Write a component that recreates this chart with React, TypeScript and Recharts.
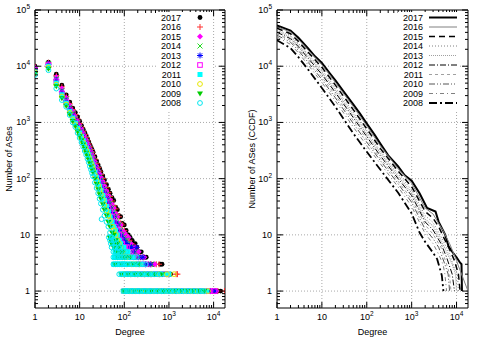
import {
  ScatterChart,
  Scatter,
  LineChart,
  Line,
  XAxis,
  YAxis,
  ReferenceLine,
  ReferenceArea,
  Legend,
} from "recharts";

// ---- shared axis values ----
const years = ["2017", "2016", "2015", "2014", "2013", "2012", "2011", "2010", "2009", "2008"];
const xTicks = [
  1, 2, 3, 4, 5, 6, 7, 8, 9, 10, 20, 30, 40, 50, 60, 70, 80, 90, 100, 200, 300, 400, 500, 600,
  700, 800, 900, 1000, 2000, 3000, 4000, 5000, 6000, 7000, 8000, 9000, 10000,
];
const yTicks = [
  0.6, 0.7, 0.8, 0.9, 1, 2, 3, 4, 5, 6, 7, 8, 9, 10, 20, 30, 40, 50, 60, 70, 80, 90, 100, 200, 300,
  400, 500, 600, 700, 800, 900, 1000, 2000, 3000, 4000, 5000, 6000, 7000, 8000, 9000, 10000, 20000,
  30000, 40000, 50000, 60000, 70000, 80000, 90000, 100000,
];
const xGrid = [10, 100, 1000, 10000];
const yGrid = [1, 10, 100, 1000, 10000];

// ---- left panel: degree distribution ----
const degrees = [
  1, 2, 3, 4, 5, 6, 7, 8, 9, 10, 11, 12, 13, 14, 15, 16, 17, 18, 19, 20, 22, 24, 26, 28, 30, 33, 36,
  40, 44, 48, 53, 58, 64, 70, 76, 83, 90, 100,
];
const count2017 = [10000, 11800, 7200, 4600, 3100, 2300, 1800, 1500, 1250, 1050, 880, 760, 660, 580, 510, 450, 400, 360, 325, 295, 245, 205, 175, 152, 133, 112, 95, 78, 65, 55, 46, 41, 31, 28, 22, 21, 16, 15];
const count2016 = [9800, 11500, 6800, 4300, 2900, 2150, 1700, 1380, 1150, 960, 820, 700, 610, 535, 470, 415, 368, 330, 296, 268, 222, 185, 157, 136, 119, 100, 84, 69, 57, 48, 40, 33, 29, 23, 21, 16, 15, 12];
const count2015 = [9500, 11200, 6400, 4000, 2750, 2000, 1580, 1280, 1060, 880, 760, 650, 560, 490, 430, 380, 336, 300, 270, 243, 200, 166, 140, 121, 105, 88, 74, 60, 50, 42, 35, 30, 24, 21, 16, 15, 12, 11];
const count2014 = [9000, 11000, 6000, 3700, 2600, 1870, 1470, 1180, 980, 810, 700, 600, 515, 450, 395, 348, 307, 273, 245, 220, 180, 149, 125, 107, 93, 77, 64, 52, 43, 36, 30, 25, 21, 17, 15, 12, 10, 9];
const count2013 = [8800, 10800, 5700, 3500, 2450, 1750, 1380, 1100, 910, 750, 650, 555, 475, 415, 362, 318, 280, 248, 222, 199, 162, 133, 111, 95, 82, 67, 56, 45, 37, 30, 25, 21, 17, 15, 12, 10, 9, 8];
const count2012 = [8500, 10500, 5400, 3300, 2300, 1650, 1290, 1030, 850, 700, 610, 515, 440, 380, 332, 290, 255, 226, 201, 180, 146, 119, 99, 84, 72, 59, 48, 38, 31, 26, 21, 17, 14, 12, 10, 8, 7, 6];
const count2011 = [8000, 10000, 5000, 3100, 2200, 1560, 1200, 970, 790, 650, 560, 475, 405, 350, 303, 265, 232, 205, 182, 162, 130, 105, 87, 73, 62, 50, 41, 32, 26, 21, 17, 14, 12, 10, 8, 7, 6, 5];
const count2010 = [7800, 9500, 4700, 2900, 2080, 1480, 1130, 910, 740, 610, 520, 440, 370, 320, 277, 240, 210, 185, 163, 145, 115, 93, 76, 63, 53, 42, 34, 27, 22, 18, 14, 12, 10, 8, 7, 6, 5, 4];
const count2009 = [7400, 9000, 4400, 2700, 1980, 1400, 1060, 860, 690, 570, 480, 405, 340, 290, 250, 217, 188, 165, 144, 127, 100, 80, 65, 53, 44, 35, 28, 22, 17, 14, 11, 10, 8, 7, 6, 5, 4, 4];
const count2008 = [7000, 8500, 4000, 2500, 1900, 1350, 1000, 830, 650, 530, 440, 370, 310, 265, 225, 195, 165, 145, 125, 110, 85, 68, 55, 44, 36, 28, 22, 17, 14, 11, 9, 8, 6, 5, 4, 4, 3, 3];

// sparse tail: [degree, number of ASes]
const tail2017 = [[110, 12], [118, 10], [123, 10], [135, 9], [150, 8], [160, 7], [175, 7], [190, 6], [217, 5], [240, 5], [280, 4], [310, 4], [450, 3], [640, 3], [700, 3], [260, 2], [330, 2], [420, 2], [520, 2], [800, 2], [1100, 2], [150, 1], [210, 1], [300, 1], [420, 1], [600, 1], [900, 1], [1300, 1], [1900, 1], [2700, 1], [3800, 1], [5500, 1], [8000, 1], [10500, 1], [12000, 1], [14400, 1]];
const tail2016 = [[110, 10], [120, 9], [130, 8], [145, 7], [160, 6], [180, 6], [200, 5], [230, 4], [270, 4], [400, 3], [520, 3], [600, 3], [200, 2], [290, 2], [380, 2], [600, 2], [900, 2], [1450, 2], [1550, 2], [130, 1], [180, 1], [260, 1], [380, 1], [550, 1], [800, 1], [1200, 1], [1700, 1], [2500, 1], [3500, 1], [5000, 1], [7000, 1], [9500, 1], [12500, 1], [17500, 1]];
const tail2015 = [[108, 10], [115, 9], [125, 9], [140, 7], [155, 6], [170, 6], [190, 5], [210, 5], [240, 4], [280, 4], [350, 3], [480, 3], [180, 2], [250, 2], [330, 2], [450, 2], [700, 2], [1000, 2], [120, 1], [170, 1], [240, 1], [350, 1], [500, 1], [750, 1], [1100, 1], [1600, 1], [2300, 1], [3300, 1], [4800, 1], [7000, 1], [9500, 1], [11500, 1]];
const tail2014 = [[105, 8], [115, 8], [125, 7], [140, 6], [155, 5], [175, 5], [200, 4], [230, 4], [300, 3], [400, 3], [150, 2], [220, 2], [300, 2], [420, 2], [650, 2], [950, 2], [110, 1], [160, 1], [230, 1], [330, 1], [480, 1], [700, 1], [1000, 1], [1500, 1], [2200, 1], [3200, 1], [4500, 1], [6500, 1], [9000, 1]];
const tail2013 = [[105, 7], [115, 7], [130, 6], [145, 6], [160, 5], [190, 6], [210, 4], [260, 4], [300, 3], [380, 3], [140, 2], [200, 2], [280, 2], [400, 2], [620, 2], [900, 2], [105, 1], [150, 1], [220, 1], [320, 1], [460, 1], [680, 1], [1000, 1], [1450, 1], [2100, 1], [3000, 1], [4300, 1], [6200, 1], [8500, 1], [10800, 1]];
const tail2012 = [[105, 6], [115, 6], [125, 5], [140, 5], [160, 4], [180, 4], [220, 3], [300, 3], [120, 2], [170, 2], [240, 2], [350, 2], [520, 2], [800, 2], [100, 1], [140, 1], [200, 1], [290, 1], [420, 1], [620, 1], [900, 1], [1300, 1], [1900, 1], [2800, 1], [4000, 1], [5800, 1], [8000, 1], [10500, 1]];
const tail2011 = [[50, 9], [60, 9], [52, 8], [62, 8], [75, 8], [55, 7], [66, 7], [80, 7], [60, 6], [72, 6], [86, 6], [98, 6], [62, 5], [68, 5], [78, 5], [88, 5], [105, 5], [120, 5], [60, 4], [66, 4], [74, 4], [85, 4], [97, 4], [112, 4], [130, 4], [150, 4], [58, 3], [65, 3], [72, 3], [80, 3], [92, 3], [106, 3], [122, 3], [140, 3], [165, 3], [195, 3], [230, 3], [90, 2], [100, 2], [115, 2], [130, 2], [150, 2], [175, 2], [200, 2], [240, 2], [290, 2], [350, 2], [420, 2], [520, 2], [650, 2], [800, 2], [1000, 2], [95, 1], [105, 1], [118, 1], [132, 1], [148, 1], [165, 1], [185, 1], [210, 1], [240, 1], [270, 1], [310, 1], [360, 1], [420, 1], [490, 1], [570, 1], [660, 1], [780, 1], [920, 1], [1100, 1], [1300, 1], [1550, 1], [1850, 1], [2200, 1], [2650, 1], [3200, 1], [3900, 1], [4700, 1], [5800, 1], [7000, 1]];
const tail2010 = [[105, 4], [115, 4], [130, 4], [150, 3], [180, 3], [220, 3], [72, 5], [85, 5], [95, 5], [100, 2], [140, 2], [200, 2], [280, 2], [400, 2], [600, 2], [900, 2], [1300, 2], [98, 1], [130, 1], [175, 1], [240, 1], [330, 1], [450, 1], [620, 1], [850, 1], [1200, 1], [1650, 1], [2300, 1], [3200, 1], [4400, 1], [6000, 1], [7500, 1]];
const tail2009 = [[47, 9], [50, 8], [52, 7], [64, 7], [58, 6], [75, 6], [66, 5], [80, 5], [92, 5], [70, 4], [88, 4], [110, 4], [135, 4], [62, 3], [85, 3], [120, 3], [160, 3], [210, 3], [85, 2], [120, 2], [170, 2], [240, 2], [340, 2], [480, 2], [700, 2], [96, 1], [125, 1], [165, 1], [220, 1], [300, 1], [400, 1], [550, 1], [750, 1], [1000, 1], [1400, 1], [1900, 1], [2600, 1], [3500, 1], [4800, 1], [6200, 1]];
const tail2008 = [[31, 19], [45, 9], [52, 9], [48, 8], [57, 8], [50, 7], [60, 7], [68, 7], [52, 6], [62, 6], [74, 6], [85, 6], [57, 5], [64, 5], [72, 5], [82, 5], [95, 5], [110, 5], [57, 4], [63, 4], [70, 4], [79, 4], [90, 4], [102, 4], [118, 4], [135, 4], [160, 4], [190, 4], [57, 3], [63, 3], [70, 3], [78, 3], [88, 3], [100, 3], [113, 3], [128, 3], [145, 3], [165, 3], [190, 3], [220, 3], [260, 3], [300, 3], [77, 2], [86, 2], [96, 2], [108, 2], [122, 2], [138, 2], [156, 2], [176, 2], [200, 2], [230, 2], [265, 2], [305, 2], [350, 2], [410, 2], [480, 2], [560, 2], [660, 2], [96, 1], [104, 1], [114, 1], [125, 1], [138, 1], [152, 1], [168, 1], [186, 1], [206, 1], [230, 1], [256, 1], [286, 1], [320, 1], [360, 1], [405, 1], [455, 1], [515, 1], [585, 1], [665, 1], [760, 1], [870, 1], [1000, 1], [1150, 1], [1330, 1], [1550, 1], [1800, 1], [2100, 1], [2450, 1], [2850, 1], [3350, 1], [3900, 1], [4600, 1], [5400, 1], [6000, 1]];

// ---- right panel: CCDF, [degree, ASes with degree >= k] ----
const ccdf2017 = [[1, 53000], [2, 43000], [3, 32000], [5, 20500], [7, 15000], [10, 11500], [15, 7500], [20, 5600], [30, 3600], [50, 2100], [70, 1450], [100, 950], [150, 600], [200, 420], [300, 260], [500, 165], [700, 115], [1000, 92], [1500, 55], [2200, 30], [3400, 26], [4000, 17], [5000, 12], [5600, 10], [6600, 6.3], [8000, 5], [10000, 4], [12000, 3.2], [12900, 3], [13200, 1]];
const ccdf2016 = [[1, 50500], [2, 40600], [3, 30000], [5, 19100], [10, 10600], [20, 5130], [50, 1910], [100, 870], [200, 385], [500, 150], [1000, 83], [2000, 30], [3000, 23.5], [4000, 16], [5000, 12], [7000, 7], [10000, 3.5], [11000, 2.8], [18000, 1]];
const ccdf2015 = [[1, 47500], [2, 37800], [3, 27700], [5, 17500], [10, 9550], [20, 4610], [50, 1690], [100, 770], [200, 345], [500, 136], [1000, 72], [2000, 26], [3000, 19.8], [4000, 14], [5000, 9.5], [7000, 5.5], [9000, 3.5], [11000, 2], [12000, 1]];
const ccdf2014 = [[1, 44800], [2, 35200], [3, 25600], [5, 16100], [10, 8630], [20, 4140], [50, 1510], [100, 690], [200, 310], [500, 122], [1000, 63], [2000, 22], [3000, 16.6], [4000, 11], [5000, 8], [7000, 4.5], [9000, 2.5], [10500, 2], [11000, 1]];
const ccdf2013 = [[1, 42400], [2, 33000], [3, 23900], [5, 14900], [10, 7850], [20, 3750], [50, 1350], [100, 620], [200, 285], [500, 110], [1000, 56], [2000, 19], [3000, 14.3], [4500, 8], [6000, 5], [8000, 3], [9500, 2], [10000, 1]];
const ccdf2012 = [[1, 40100], [2, 30900], [3, 22200], [5, 13700], [10, 7160], [20, 3400], [50, 1220], [100, 560], [200, 255], [500, 100], [1000, 50], [2000, 17], [3000, 12.2], [4500, 7], [6000, 4], [8000, 2], [9000, 1]];
const ccdf2011 = [[1, 37800], [2, 28800], [3, 20500], [5, 12600], [10, 6460], [20, 3050], [50, 1080], [100, 500], [200, 230], [500, 90], [1000, 43], [2000, 15], [3000, 10.3], [4500, 6], [6000, 3], [7000, 2], [7500, 1]];
const ccdf2010 = [[1, 35600], [2, 26800], [3, 19000], [5, 11600], [10, 5820], [20, 2740], [50, 960], [100, 445], [200, 210], [500, 81], [1000, 38], [2000, 12.5], [3000, 8.6], [4000, 6], [5500, 3], [6500, 2], [7000, 1]];
const ccdf2009 = [[1, 33100], [2, 24500], [3, 17300], [5, 10400], [10, 5150], [20, 2410], [50, 830], [100, 385], [200, 185], [500, 71], [1000, 32], [2000, 10.5], [3000, 7], [4000, 4.5], [5000, 3], [5500, 2], [6000, 1]];
const ccdf2008 = [[1, 29000], [2, 21000], [3, 14500], [5, 8600], [10, 4100], [20, 1900], [50, 640], [100, 300], [200, 145], [500, 56], [1000, 24], [1500, 11], [2000, 7.5], [3000, 4.8], [3700, 3.7], [4700, 1.9], [5100, 1]];

const counts = [count2017, count2016, count2015, count2014, count2013, count2012, count2011, count2010, count2009, count2008];
const tails = [tail2017, tail2016, tail2015, tail2014, tail2013, tail2012, tail2011, tail2010, tail2009, tail2008];
const ccdfs = [ccdf2017, ccdf2016, ccdf2015, ccdf2014, ccdf2013, ccdf2012, ccdf2011, ccdf2010, ccdf2009, ccdf2008];

const marks = [
  { kind: "dot", color: "#000000" },
  { kind: "plus", color: "#ff3030" },
  { kind: "diamond", color: "#ff00ff" },
  { kind: "cross", color: "#22dd22" },
  { kind: "star", color: "#0000ff" },
  { kind: "square", color: "#ff00ff" },
  { kind: "fsquare", color: "#00ffff" },
  { kind: "circle", color: "#e8e800" },
  { kind: "tri", color: "#00cc00" },
  { kind: "circle", color: "#00e8f0" },
];

const strokes = [
  { color: "#000000", width: 2, dash: undefined },
  { color: "#808080", width: 1, dash: undefined },
  { color: "#000000", width: 1.5, dash: "6 4" },
  { color: "#808080", width: 1, dash: "1 2" },
  { color: "#a0a0a0", width: 1.2, dash: "1 1" },
  { color: "#000000", width: 1, dash: "6 2 1 2" },
  { color: "#a0a0a0", width: 1, dash: "3 3" },
  { color: "#555555", width: 1, dash: "6 2 1 2 1 2" },
  { color: "#808080", width: 1, dash: "4 3 1 3" },
  { color: "#000000", width: 1.8, dash: "8 3 2 3" },
];

const toPoints = (pairs: number[][]) => pairs.map(([k, n]) => ({ k, n }));

const scatterSeries = years.map((year, i) => ({
  year,
  data: [...degrees.map((k, j) => ({ k, n: counts[i][j] })), ...toPoints(tails[i])],
}));
const ccdfSeries = years.map((year, i) => ({ year, data: toPoints(ccdfs[i]) }));

const isMajor = (v: number) => Math.abs(Math.log10(v) - Math.round(Math.log10(v))) < 1e-9;

function PowLabel({ x, y, v, anchor }: { x: number; y: number; v: number; anchor: string }) {
  const e = Math.round(Math.log10(v));
  if (e < 2) {
    return (
      <text x={x} y={y} textAnchor={anchor} fontSize={9} fill="#000">
        {v}
      </text>
    );
  }
  return (
    <text x={x} y={y} textAnchor={anchor} fontSize={9} fill="#000">
      10
      <tspan dy={-4} fontSize={6.5}>
        {e}
      </tspan>
    </text>
  );
}

// ticks drawn inside the frame, mirrored on the opposite side (gnuplot style)
const xTick = (top: number, bottom: number) => (props: any) => {
  const { x, payload } = props;
  const major = isMajor(payload.value);
  const len = major ? 6 : 3;
  return (
    <g>
      <line x1={x} x2={x} y1={bottom} y2={bottom - len} stroke="#000" />
      <line x1={x} x2={x} y1={top} y2={top + len} stroke="#000" />
      {major && <PowLabel x={x} y={bottom + 12} v={payload.value} anchor="middle" />}
    </g>
  );
};

const yTick = (left: number, right: number) => (props: any) => {
  const { y, payload } = props;
  const major = isMajor(payload.value);
  const len = major ? 6 : 3;
  return (
    <g>
      <line x1={left} x2={left + len} y1={y} y2={y} stroke="#000" />
      <line x1={right} x2={right - len} y1={y} y2={y} stroke="#000" />
      {major && <PowLabel x={left - 5} y={y + 3} v={payload.value} anchor="end" />}
    </g>
  );
};

const yTitle = (text: string, cx: number) => ({
  content: ({ viewBox }: any) => {
    const cy = viewBox ? viewBox.y + viewBox.height / 2 : 159;
    return (
      <text x={cx} y={cy} transform={`rotate(-90 ${cx} ${cy})`} textAnchor="middle" fontSize={9} fill="#000">
        {text}
      </text>
    );
  },
});

function Marker({ cx, cy, kind, color }: any) {
  if (cx == null || cy == null) return null;
  const r = 2.4;
  switch (kind) {
    case "dot":
      return <circle cx={cx} cy={cy} r={r} fill={color} />;
    case "plus":
      return <path d={`M${cx - 3},${cy}H${cx + 3}M${cx},${cy - 3}V${cy + 3}`} stroke={color} />;
    case "diamond":
      return <path d={`M${cx},${cy - 3}L${cx + 3},${cy}L${cx},${cy + 3}L${cx - 3},${cy}Z`} fill={color} />;
    case "cross":
      return <path d={`M${cx - 2.5},${cy - 2.5}L${cx + 2.5},${cy + 2.5}M${cx - 2.5},${cy + 2.5}L${cx + 2.5},${cy - 2.5}`} stroke={color} />;
    case "star":
      return (
        <path
          d={`M${cx - 3},${cy}H${cx + 3}M${cx},${cy - 3}V${cy + 3}M${cx - 2.2},${cy - 2.2}L${cx + 2.2},${cy + 2.2}M${cx - 2.2},${cy + 2.2}L${cx + 2.2},${cy - 2.2}`}
          stroke={color}
        />
      );
    case "square":
      return <rect x={cx - 2.3} y={cy - 2.3} width={4.6} height={4.6} fill="none" stroke={color} />;
    case "fsquare":
      return <rect x={cx - 2.5} y={cy - 2.5} width={5} height={5} fill={color} />;
    case "circle":
      return <circle cx={cx} cy={cy} r={r} fill="none" stroke={color} />;
    case "tri":
      return <path d={`M${cx - 3},${cy - 2}L${cx + 3},${cy - 2}L${cx},${cy + 3}Z`} fill={color} />;
    default:
      return null;
  }
}

function ScatterKey() {
  return (
    <svg width={56} height={98} style={{ display: "block" }}>
      {years.map((year, i) => {
        const cy = 5.5 + i * 9.5;
        return (
          <g key={year}>
            <text x={24} y={cy + 3} textAnchor="end" fontSize={9} fill="#000">
              {year}
            </text>
            <Marker cx={43} cy={cy} {...marks[i]} />
          </g>
        );
      })}
    </svg>
  );
}

function LineKey() {
  return (
    <svg width={62} height={98} style={{ display: "block" }}>
      {years.map((year, i) => {
        const cy = 5.5 + i * 9.5;
        const s = strokes[i];
        return (
          <g key={year}>
            <text x={25} y={cy + 3} textAnchor="end" fontSize={9} fill="#000">
              {year}
            </text>
            <line x1={31} x2={59} y1={cy} y2={cy} stroke={s.color} strokeWidth={s.width} strokeDasharray={s.dash} />
          </g>
        );
      })}
    </svg>
  );
}

const gridStyle = { stroke: "#a8a8a8", strokeDasharray: "1 2" };

export default function App() {
  return (
    <div
      style={{
        position: "absolute",
        left: 0,
        top: 0,
        width: 485,
        height: 339,
        background: "#fff",
        fontFamily: "'Liberation Sans', Arial, sans-serif",
      }}
    >
      <div style={{ position: "absolute", left: 0, top: 0 }}>
        <ScatterChart width={240} height={339} margin={{ top: 10, right: 15, bottom: 0, left: 0 }}>
          {xGrid.map((v) => (
            <ReferenceLine key={`gx${v}`} x={v} {...gridStyle} />
          ))}
          {yGrid.map((v) => (
            <ReferenceLine key={`gy${v}`} y={v} {...gridStyle} />
          ))}
          <XAxis
            type="number"
            dataKey="k"
            scale="log"
            domain={[1, 18000]}
            allowDataOverflow
            ticks={xTicks}
            interval={0}
            tickSize={0}
            tickMargin={0}
            axisLine={false}
            tickLine={false}
            tick={xTick(10, 308)}
            height={31}
            label={{ value: "Degree", position: "insideBottom", offset: 4, fontSize: 9, fill: "#000" }}
          />
          <YAxis
            type="number"
            dataKey="n"
            scale="log"
            domain={[0.5, 100000]}
            allowDataOverflow
            ticks={yTicks}
            interval={0}
            tickSize={0}
            tickMargin={0}
            axisLine={false}
            tickLine={false}
            tick={yTick(35, 225)}
            width={35}
            label={yTitle("Number of ASes", 12)}
          />
          {scatterSeries.map((s, i) => (
            <Scatter
              key={s.year}
              name={s.year}
              data={s.data}
              isAnimationActive={false}
              shape={(p: any) => <Marker cx={p.cx} cy={p.cy} {...marks[i]} />}
            />
          ))}
          <ReferenceArea x1={1} x2={18000} y1={0.5} y2={100000} fill="none" stroke="#000" ifOverflow="visible" />
          <Legend
            layout="vertical"
            align="center"
            verticalAlign="middle"
            wrapperStyle={{ left: 157, top: 12, width: 56, height: 98, background: "#fff" }}
            content={() => <ScatterKey />}
          />
        </ScatterChart>
      </div>
      <div style={{ position: "absolute", left: 240, top: 0 }}>
        <LineChart width={245} height={339} margin={{ top: 10, right: 17, bottom: 0, left: 0 }}>
          {xGrid.map((v) => (
            <ReferenceLine key={`gx${v}`} x={v} {...gridStyle} />
          ))}
          {yGrid.map((v) => (
            <ReferenceLine key={`gy${v}`} y={v} {...gridStyle} />
          ))}
          <XAxis
            type="number"
            dataKey="k"
            scale="log"
            domain={[1, 18000]}
            allowDataOverflow
            ticks={xTicks}
            interval={0}
            tickSize={0}
            tickMargin={0}
            axisLine={false}
            tickLine={false}
            tick={xTick(10, 308)}
            height={31}
            label={{ value: "Degree", position: "insideBottom", offset: 4, fontSize: 9, fill: "#000" }}
          />
          <YAxis
            type="number"
            dataKey="n"
            scale="log"
            domain={[0.5, 100000]}
            allowDataOverflow
            ticks={yTicks}
            interval={0}
            tickSize={0}
            tickMargin={0}
            axisLine={false}
            tickLine={false}
            tick={yTick(37, 228)}
            width={37}
            label={yTitle("Number of ASes (CCDF)", 15)}
          />
          {ccdfSeries.map((s, i) => (
            <Line
              key={s.year}
              name={s.year}
              data={s.data}
              dataKey="n"
              type="linear"
              dot={false}
              stroke={strokes[i].color}
              strokeWidth={strokes[i].width}
              strokeDasharray={strokes[i].dash}
              isAnimationActive={false}
            />
          ))}
          <ReferenceArea x1={1} x2={18000} y1={0.5} y2={100000} fill="none" stroke="#000" ifOverflow="visible" />
          <Legend
            layout="vertical"
            align="center"
            verticalAlign="middle"
            wrapperStyle={{ left: 158, top: 12, width: 62, height: 98, background: "#fff" }}
            content={() => <LineKey />}
          />
        </LineChart>
      </div>
    </div>
  );
}
